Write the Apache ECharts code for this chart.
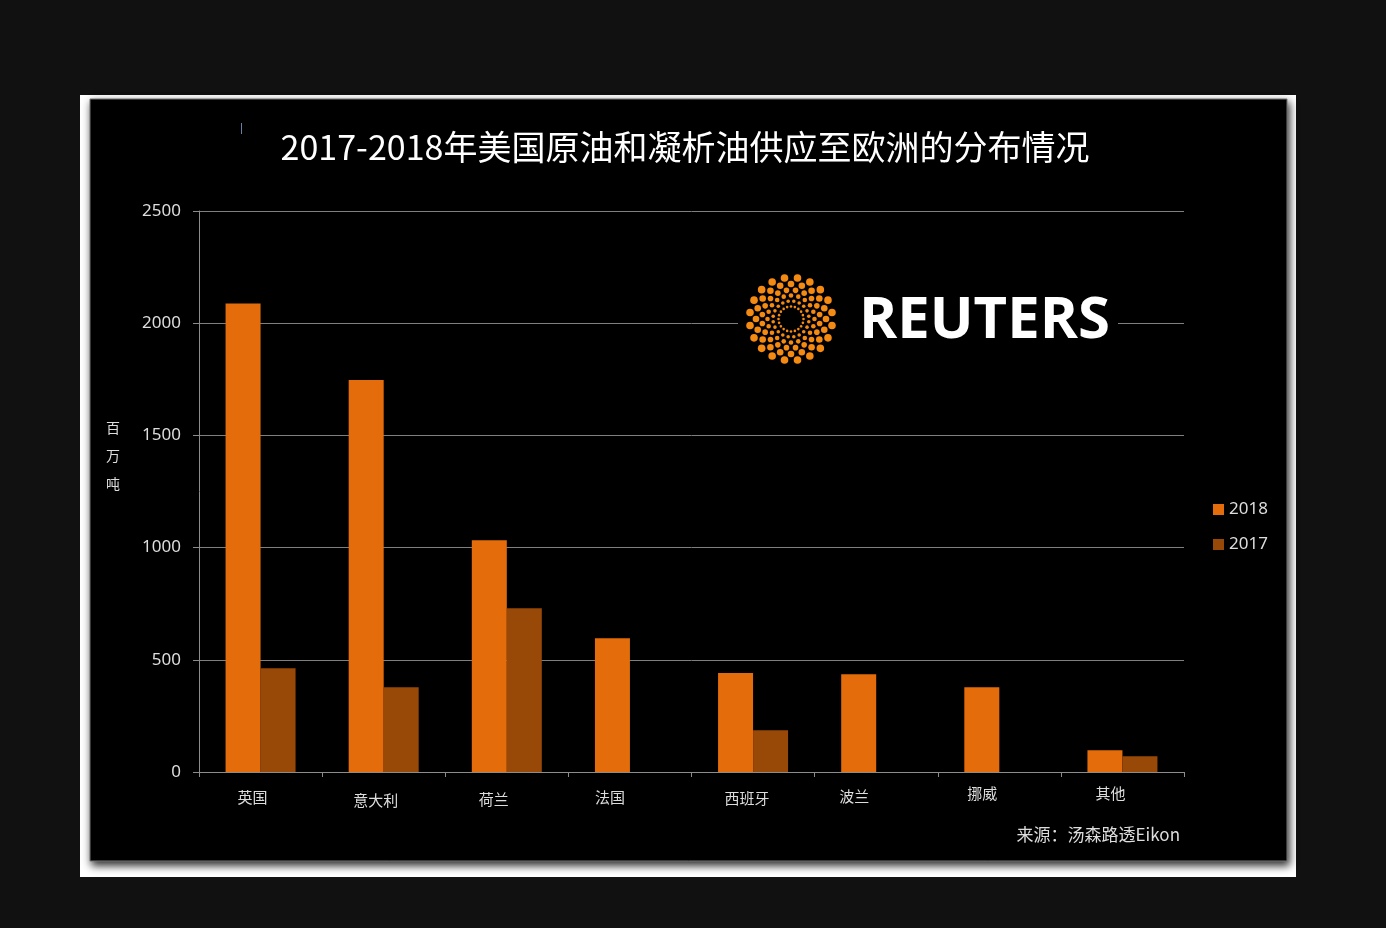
<!DOCTYPE html>
<html>
<head>
<meta charset="utf-8">
<script src="https://cdn.jsdelivr.net/npm/echarts@6/dist/echarts.min.js"></script>
<style>
html,body{margin:0;padding:0;background:#111111;}
#chart{width:1386px;height:928px;}
</style>
</head>
<body>
<div id="chart"></div>
<script>
const categories = ['英国','意大利','荷兰','法国','西班牙','波兰','挪威','其他'];
const values2018 = [2088, 1747, 1033, 596, 441, 436, 378, 97];
const values2017 = [462, 378, 730, 0, 186, 0, 0, 70];
const yTicks = [0, 500, 1000, 1500, 2000, 2500];
const seriesNames = ['2018', '2017'];

const chart = echarts.init(document.getElementById('chart'));

const cjk = '"Noto Sans CJK SC", "Noto Sans", sans-serif';

// label nudges (px) to mimic the reference's slightly offset category labels
const labelShiftLeft = [8, 8, 13, 20, 6, 22, 17, 12];
const labelShiftDown = [4, 7, 6, 4, 5, 3, 0, 0];
const rich = {};
labelShiftLeft.forEach(function (dx, i) {
  rich['l' + i] = {color: '#dddddd', fontSize: 15, fontFamily: cjk, padding: [labelShiftDown[i], 2 * dx, 0, 0]};
});

// decorative Reuters logo dots
const logoDots = [];
const cx = 791, cy = 319;
const rings = [
  {r: 12.5, s: 1.3, n: 20},
  {r: 18, s: 1.8, n: 20},
  {r: 23.5, s: 2.3, n: 20},
  {r: 29, s: 2.8, n: 20},
  {r: 35, s: 3.3, n: 20},
  {r: 41.5, s: 3.8, n: 20}
];
rings.forEach(function (ring, i) {
  for (let k = 0; k < ring.n; k++) {
    const a = (k + (i % 2) * 0.5) / ring.n * Math.PI * 2;
    logoDots.push({
      type: 'circle', z: 12,
      shape: {cx: cx + ring.r * Math.cos(a), cy: cy + ring.r * Math.sin(a), r: ring.s},
      style: {fill: '#F58A12'}
    });
  }
});

const option = {
  backgroundColor: '#111111',
  animation: false,
  graphic: [
    {type: 'rect', z: -20, shape: {x: 80, y: 95, width: 1216, height: 782}, style: {fill: '#ffffff'}},
    {type: 'rect', z: -19, shape: {x: 90, y: 99, width: 1197, height: 762},
      style: {fill: '#000000', stroke: '#777777', lineWidth: 1, shadowColor: 'rgba(0,0,0,0.85)', shadowBlur: 8, shadowOffsetX: 2, shadowOffsetY: 4}},
    {type: 'line', z: 5, shape: {x1: 241.5, y1: 123, x2: 241.5, y2: 134}, style: {stroke: '#6a7fa8', lineWidth: 1}},
    {type: 'text', z: 5, x: 685, y: 147,
      style: {text: '2017-2018年美国原油和凝析油供应至欧洲的分布情况', fill: '#ffffff', font: '34px ' + cjk, textAlign: 'center', textVerticalAlign: 'middle'}},
    {type: 'text', z: 5, x: 113, y: 456,
      style: {text: '百\n万\n吨', fill: '#dddddd', font: '14px ' + cjk, textAlign: 'center', textVerticalAlign: 'middle', lineHeight: 28}},
    {type: 'text', z: 5, x: 1180, y: 835,
      style: {text: '来源：汤森路透Eikon', fill: '#dddddd', font: '17px ' + cjk, textAlign: 'right', textVerticalAlign: 'middle'}},
    {type: 'rect', z: 10, shape: {x: 738, y: 268, width: 380, height: 102}, style: {fill: '#000000'}},
    {type: 'text', z: 12, x: 859, y: 321,
      style: {text: 'REUTERS', fill: '#ffffff', font: 'bold 58px "Open Sans", sans-serif', textAlign: 'left', textVerticalAlign: 'middle'}}
  ].concat(logoDots),
  legend: {
    data: seriesNames,
    orient: 'vertical',
    left: 1208,
    top: 496,
    itemWidth: 11,
    itemHeight: 11,
    itemGap: 18,
    icon: 'rect',
    textStyle: {color: '#dddddd', fontSize: 17, fontFamily: '"Noto Sans", sans-serif'}
  },
  grid: {left: 199, right: 202, top: 211, bottom: 156, containLabel: false},
  xAxis: {
    type: 'category',
    data: categories,
    axisLine: {lineStyle: {color: '#8c8c8c', width: 1}},
    axisTick: {show: true, length: 5, lineStyle: {color: '#8c8c8c'}},
    axisLabel: {
      margin: 14,
      formatter: function (v, i) { return '{l' + i + '|' + v + '}'; },
      rich: rich
    }
  },
  yAxis: {
    type: 'value',
    min: yTicks[0],
    max: yTicks[yTicks.length - 1],
    interval: 500,
    axisLine: {show: true, lineStyle: {color: '#8c8c8c', width: 1}},
    axisTick: {show: true, length: 6, lineStyle: {color: '#8c8c8c'}},
    splitLine: {lineStyle: {color: '#7f7f7f', width: 1}},
    axisLabel: {color: '#dddddd', fontSize: 17, fontFamily: '"Noto Sans", sans-serif', margin: 18,
      formatter: function (v) { return String(v); }}
  },
  series: [
    {name: seriesNames[0], type: 'bar', data: values2018, barWidth: 35, barGap: '0%',
      itemStyle: {color: '#E46C0A'}},
    {name: seriesNames[1], type: 'bar', data: values2017, barWidth: 35, barGap: '0%',
      itemStyle: {color: '#984807'}}
  ]
};
chart.setOption(option);
</script>
</body>
</html>
